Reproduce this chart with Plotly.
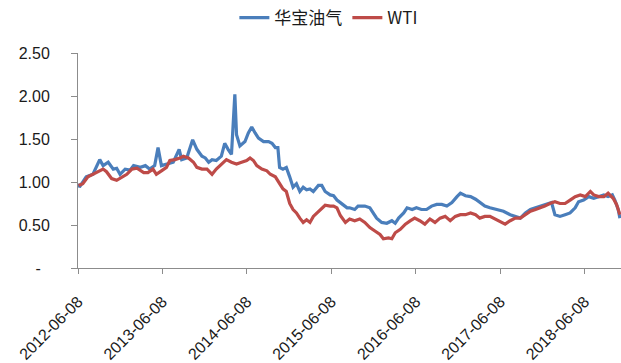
import datetime as dt
import plotly.graph_objects as go

# ---- data (dates as decimal years, values normalised to 1.00 at 2012-06-08) ----
hb_t = [2012.44, 2012.45, 2012.53, 2012.61, 2012.69, 2012.73, 2012.79, 2012.85, 2012.89, 2012.93,
        2012.99, 2013.05, 2013.09, 2013.17, 2013.23, 2013.28, 2013.34, 2013.38, 2013.42, 2013.48,
        2013.56, 2013.63, 2013.66, 2013.72, 2013.79, 2013.84, 2013.90, 2013.94, 2013.98, 2014.02,
        2014.07, 2014.13, 2014.17, 2014.21, 2014.25, 2014.29, 2014.31, 2014.35, 2014.41, 2014.45,
        2014.49, 2014.53, 2014.57, 2014.63, 2014.69, 2014.73, 2014.77, 2014.80, 2014.82, 2014.86,
        2014.90, 2014.94, 2014.98, 2015.02, 2015.06, 2015.10, 2015.14, 2015.18, 2015.22, 2015.28,
        2015.32, 2015.36, 2015.42, 2015.46, 2015.50, 2015.54, 2015.58, 2015.62, 2015.65, 2015.71,
        2015.75, 2015.83, 2015.89, 2015.93, 2015.97, 2016.03, 2016.09, 2016.15, 2016.19, 2016.23,
        2016.29, 2016.33, 2016.39, 2016.44, 2016.50, 2016.56, 2016.62, 2016.68, 2016.74, 2016.80,
        2016.86, 2016.92, 2016.96, 2017.02, 2017.08, 2017.14, 2017.19, 2017.25, 2017.31, 2017.39,
        2017.47, 2017.55, 2017.61, 2017.67, 2017.73, 2017.79, 2017.85, 2017.91, 2017.99, 2018.04,
        2018.08, 2018.14, 2018.20, 2018.26, 2018.32, 2018.36, 2018.42, 2018.48, 2018.54, 2018.60,
        2018.66, 2018.71, 2018.76, 2018.79, 2018.83, 2018.85]
hb_v = [0.98, 0.94, 1.06, 1.09, 1.26, 1.19, 1.23, 1.15, 1.16, 1.09,
        1.15, 1.14, 1.19, 1.17, 1.19, 1.15, 1.19, 1.40, 1.19, 1.21,
        1.23, 1.38, 1.26, 1.28, 1.49, 1.38, 1.30, 1.28, 1.23, 1.26,
        1.25, 1.30, 1.45, 1.38, 1.32, 2.02, 1.55, 1.42, 1.47, 1.57,
        1.64, 1.57, 1.51, 1.47, 1.47, 1.45, 1.40, 1.40, 1.17, 1.15,
        1.17, 1.06, 0.94, 0.98, 0.89, 0.94, 0.91, 0.92, 0.89, 0.96,
        0.96, 0.89, 0.85, 0.84, 0.79, 0.76, 0.73, 0.70, 0.70, 0.68,
        0.72, 0.72, 0.70, 0.64, 0.58, 0.53, 0.52, 0.55, 0.52, 0.58,
        0.64, 0.70, 0.68, 0.70, 0.68, 0.68, 0.72, 0.74, 0.74, 0.72,
        0.76, 0.83, 0.87, 0.84, 0.83, 0.80, 0.76, 0.72, 0.70, 0.68,
        0.66, 0.62, 0.60, 0.58, 0.64, 0.68, 0.70, 0.72, 0.74, 0.76,
        0.62, 0.60, 0.62, 0.64, 0.70, 0.77, 0.79, 0.83, 0.81, 0.83,
        0.85, 0.83, 0.85, 0.79, 0.68, 0.58]

wti_t = [2012.44, 2012.49, 2012.55, 2012.61, 2012.67, 2012.73, 2012.77, 2012.83, 2012.89, 2012.95,
         2013.01, 2013.07, 2013.13, 2013.21, 2013.26, 2013.32, 2013.36, 2013.42, 2013.48, 2013.52,
         2013.58, 2013.64, 2013.68, 2013.74, 2013.80, 2013.84, 2013.90, 2013.96, 2014.02, 2014.07,
         2014.13, 2014.19, 2014.25, 2014.31, 2014.37, 2014.43, 2014.47, 2014.51, 2014.55, 2014.61,
         2014.67, 2014.71, 2014.77, 2014.82, 2014.86, 2014.90, 2014.94, 2014.98, 2015.02, 2015.06,
         2015.10, 2015.14, 2015.18, 2015.22, 2015.26, 2015.30, 2015.36, 2015.42, 2015.46, 2015.50,
         2015.54, 2015.60, 2015.65, 2015.71, 2015.77, 2015.83, 2015.89, 2015.95, 2016.01, 2016.05,
         2016.11, 2016.15, 2016.19, 2016.25, 2016.31, 2016.37, 2016.42, 2016.48, 2016.54, 2016.60,
         2016.66, 2016.72, 2016.78, 2016.84, 2016.90, 2016.96, 2017.02, 2017.08, 2017.14, 2017.19,
         2017.25, 2017.31, 2017.37, 2017.43, 2017.49, 2017.55, 2017.61, 2017.67, 2017.73, 2017.79,
         2017.85, 2017.91, 2017.96, 2018.02, 2018.08, 2018.14, 2018.20, 2018.26, 2018.32, 2018.38,
         2018.44, 2018.50, 2018.54, 2018.60, 2018.66, 2018.71, 2018.77, 2018.81, 2018.85]
wti_v = [0.96, 0.98, 1.06, 1.09, 1.13, 1.15, 1.12, 1.04, 1.02, 1.06,
         1.09, 1.15, 1.16, 1.11, 1.11, 1.15, 1.09, 1.13, 1.17, 1.25,
         1.26, 1.28, 1.30, 1.28, 1.23, 1.17, 1.15, 1.15, 1.09, 1.15,
         1.21, 1.26, 1.23, 1.21, 1.23, 1.25, 1.28, 1.25, 1.19, 1.15,
         1.13, 1.09, 1.06, 0.98, 0.92, 0.89, 0.75, 0.68, 0.64, 0.58,
         0.53, 0.56, 0.53, 0.60, 0.64, 0.68, 0.73, 0.72, 0.72, 0.70,
         0.61, 0.53, 0.57, 0.55, 0.57, 0.53, 0.47, 0.43, 0.39, 0.34,
         0.35, 0.34, 0.41, 0.45, 0.51, 0.55, 0.58, 0.55, 0.51, 0.57,
         0.53, 0.58, 0.60, 0.55, 0.60, 0.62, 0.62, 0.64, 0.62, 0.58,
         0.60, 0.60, 0.57, 0.55, 0.51, 0.55, 0.58, 0.58, 0.62, 0.66,
         0.68, 0.70, 0.72, 0.75, 0.77, 0.75, 0.75, 0.79, 0.83, 0.85,
         0.83, 0.89, 0.85, 0.83, 0.83, 0.87, 0.81, 0.74, 0.62]

x_ticks = ["2012-06-08", "2013-06-08", "2014-06-08", "2015-06-08",
           "2016-06-08", "2017-06-08", "2018-06-08"]
x_end = "2018-11-12"
y_ticks = [0, 0.5, 1.0, 1.5, 2.0, 2.5]
y_labels = ["-\u00a0\u00a0", "0.50", "1.00", "1.50", "2.00", "2.50"]
names = ["华宝油气", "WTI"]
colors = ["#4A7EBB", "#BE4B48"]


def to_date(t):
    year = int(t)
    start = dt.datetime(year, 1, 1)
    days = (dt.datetime(year + 1, 1, 1) - start).days
    return start + dt.timedelta(days=(t - year) * days)


fig = go.Figure()
for name, tt, vv, c in [(names[0], hb_t, hb_v, colors[0]), (names[1], wti_t, wti_v, colors[1])]:
    fig.add_trace(go.Scatter(x=[to_date(t) for t in tt], y=vv, mode="lines", name=name,
                             line=dict(color=c, width=3.2), cliponaxis=True))

font_fam = "Liberation Sans, Arial, Noto Sans CJK SC, sans-serif"
fig.update_layout(
    width=621, height=363,
    margin=dict(l=78, r=0, t=52, b=88),
    paper_bgcolor="white", plot_bgcolor="white",
    font=dict(family=font_fam, size=16, color="#1a1a1a"),
    showlegend=True,
    legend=dict(orientation="h", x=0.462, xanchor="center", y=1.165, yanchor="middle",
                font=dict(family="Noto Sans CJK SC, Liberation Sans, sans-serif", size=17, color="#1a1a1a"),
                itemwidth=30, tracegroupgap=0, bgcolor="rgba(0,0,0,0)"),
    xaxis=dict(type="date", range=["2012-06-07 12:00", x_end],
               tickvals=x_ticks, ticktext=x_ticks, tickangle=-45,
               showline=True, linecolor="#8c8c8c", linewidth=1,
               ticks="outside", ticklen=5, tickcolor="#8c8c8c",
               showgrid=False, zeroline=False, ticklabelstandoff=12),
    yaxis=dict(range=[0, 2.5], tickvals=y_ticks, ticktext=y_labels,
               showline=True, linecolor="#8c8c8c", linewidth=1,
               ticks="outside", ticklen=6, tickcolor="#8c8c8c",
               showgrid=False, zeroline=False, ticklabelstandoff=18),
)

fig.write_html("out.html")
